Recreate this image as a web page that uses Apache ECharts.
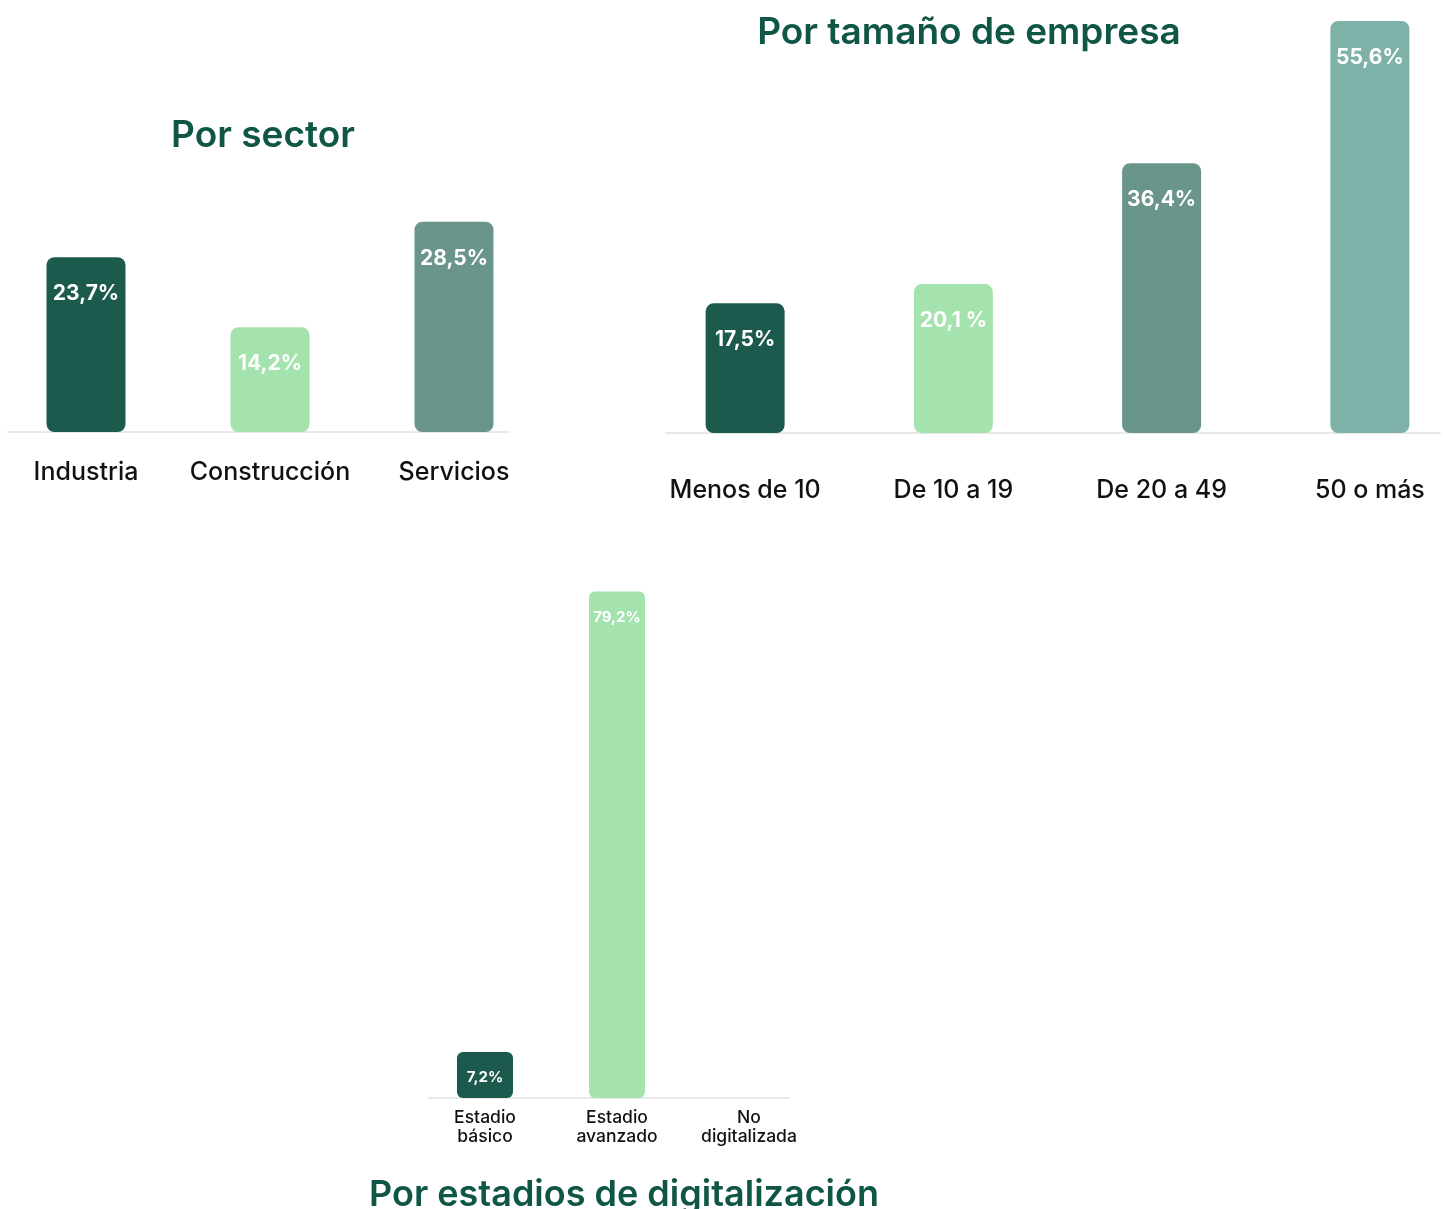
<!DOCTYPE html>
<html>
<head>
<meta charset="utf-8">
<script src="https://cdn.jsdelivr.net/npm/echarts@6/dist/echarts.min.js"></script>
<style>
  html, body { margin: 0; padding: 0; background: #fff; }
  #chart { width: 1445px; height: 1209px; }
</style>
</head>
<body>
<div id="chart"></div>
<script>
// Por sector
const sectorCats   = ['Industria', 'Construcción', 'Servicios'];
const sectorVals   = [23.7, 14.2, 28.5];
const sectorLabels = ['23,7%', '14,2%', '28,5%'];

// Por tamaño de empresa
const sizeCats   = ['Menos de 10', 'De 10 a 19', 'De 20 a 49', '50 o más'];
const sizeVals   = [17.5, 20.1, 36.4, 55.6];
const sizeLabels = ['17,5%', '20,1 %', '36,4%', '55,6%'];

// Por estadios de digitalización
const stageCats   = ['Estadio\nbásico', 'Estadio\navanzado', 'No\ndigitalizada'];
const stageVals   = [7.2, 79.2, null];
const stageLabels = ['7,2%', '79,2%', ''];

const DARK  = '#1c5a4e';
const LIGHT = '#a4e3ad';
const MID   = '#6a958a';
const TEAL  = '#7eb2a8';
const TITLE = '#0f5646';
const FONT  = 'Inter, "Noto Sans", sans-serif';

const sectorColors = [DARK, LIGHT, MID];
const sizeColors   = [DARK, LIGHT, MID, TEAL];
const stageColors  = [DARK, LIGHT, MID];

const chart = echarts.init(document.getElementById('chart'));

// builds the bar data with per-bar colour
const colored = (vals, colors) => vals.map((v, i) => ({ value: v, itemStyle: { color: colors[i] } }));

const catAxis = (gridIndex, data, fontSize, margin, lineHeight) => ({
  type: 'category',
  gridIndex,
  data,
  axisLine: { show: false },
  axisTick: { show: false },
  axisLabel: {
    color: '#111', fontFamily: FONT, fontWeight: 500,
    fontSize, margin, lineHeight, interval: 0,
  },
});

// axis-only grid for the thin grey baseline
const baseAxis = (gridIndex) => ({
  type: 'category',
  gridIndex,
  data: [''],
  axisLine: { lineStyle: { color: '#e8e8e8', width: 2 } },
  axisTick: { show: false },
  axisLabel: { show: false },
});

const valAxis = (gridIndex, max) => ({
  type: 'value', gridIndex, min: 0, max,
  show: false, splitLine: { show: false },
});

const barLabel = (labels, fontSize, distance) => ({
  show: true,
  position: 'insideTop',
  distance,
  color: '#fff',
  fontFamily: FONT,
  fontWeight: 700,
  fontSize,
  formatter: (p) => labels[p.dataIndex],
});

const grid = (left, width, top, height) => ({ left, width, top, height, outerBoundsMode: 'none' });

chart.setOption({
  backgroundColor: '#fff',
  animation: false,
  title: [
    { text: 'Por sector', left: 258, top: 112, textAlign: 'center',
      textStyle: { color: TITLE, fontFamily: FONT, fontWeight: 600, fontSize: 37 } },
    { text: 'Por tamaño de empresa', left: 964, top: 9, textAlign: 'center',
      textStyle: { color: TITLE, fontFamily: FONT, fontWeight: 600, fontSize: 37 } },
    { text: 'Por estadios de digitalización', left: 619, top: 1172, textAlign: 'center',
      textStyle: { color: TITLE, fontFamily: FONT, fontWeight: 600, fontSize: 36 } },
  ],
  grid: [
    grid(-6, 552, 100, 332),   // 0 sector bars
    grid(8, 501, 100, 332),    // 1 sector baseline
    grid(641, 833, 1, 432),    // 2 size bars
    grid(666, 774, 1, 432),    // 3 size baseline
    grid(419, 396, 580, 518),  // 4 stage bars
    grid(429, 360, 580, 518),  // 5 stage baseline
  ],
  xAxis: [
    catAxis(0, sectorCats, 25, 28),
    baseAxis(1),
    catAxis(2, sizeCats, 25, 45),
    baseAxis(3),
    catAxis(4, stageCats, 17.5, 10, 19),
    baseAxis(5),
  ],
  yAxis: [
    valAxis(0, 45),
    valAxis(1, 45),
    valAxis(2, 58.3),
    valAxis(3, 58.3),
    valAxis(4, 81),
    valAxis(5, 81),
  ],
  series: [
    {
      type: 'bar', xAxisIndex: 0, yAxisIndex: 0,
      barWidth: 79,
      itemStyle: { borderRadius: 8 },
      data: colored(sectorVals, sectorColors),
      label: barLabel(sectorLabels, 21, 26),
    },
    {
      type: 'bar', xAxisIndex: 2, yAxisIndex: 2,
      barWidth: 79,
      itemStyle: { borderRadius: 8 },
      data: colored(sizeVals, sizeColors),
      label: barLabel(sizeLabels, 21, 26),
    },
    {
      type: 'bar', xAxisIndex: 4, yAxisIndex: 4,
      barWidth: 56,
      itemStyle: { borderRadius: 6 },
      data: colored(stageVals, stageColors),
      label: barLabel(stageLabels, 15, 18),
    },
  ],
});
</script>
</body>
</html>
